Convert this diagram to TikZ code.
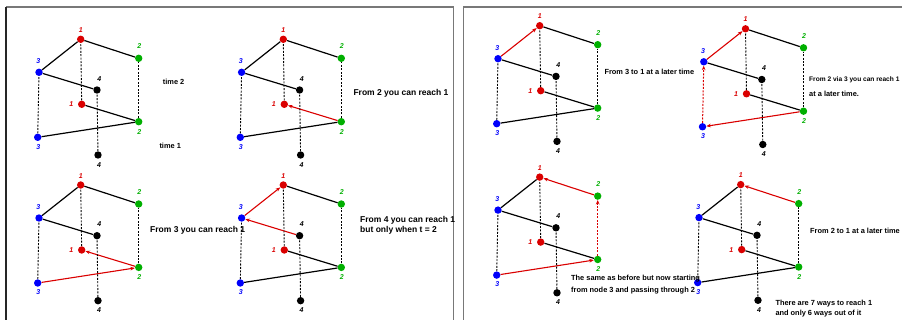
\documentclass[tikz,border=0pt]{standalone}
\usepackage{fontspec}
\setmainfont{Liberation Sans}
\usetikzlibrary{arrows.meta,backgrounds}
\definecolor{myred}{RGB}{218,0,0}
\definecolor{mygreen}{RGB}{0,175,0}
\definecolor{myblue}{RGB}{0,0,250}
\definecolor{framegray}{RGB}{120,120,120}
\tikzset{
  dot/.style={circle, inner sep=0pt, minimum size=7.4pt, fill=#1},
  lab/.style={font=\fontsize{7}{8}\selectfont\bfseries\itshape, text=#1, inner sep=0pt},
  blk/.style={draw=black, line width=1.2pt},
  vdash/.style={draw=black, line width=0.9pt, dash pattern=on 2pt off 1.4pt},
  rarr/.style={draw=myred, line width=1.1pt, -{Stealth[length=4.5pt,width=3.6pt]}},
  rarrrev/.style={draw=myred, line width=1.1pt, {Stealth[length=4.5pt,width=3.6pt]}-},
  rdash/.style={draw=myred, line width=1pt, dash pattern=on 2pt off 1.4pt, -{Stealth[length=4.5pt,width=3.6pt]}},
  eA/.style=blk, eB/.style=blk, eC/.style=blk, eD/.style=blk, eE/.style=blk,
  vA/.style=vdash, vB/.style=vdash, vC/.style=vdash, vD/.style=vdash,
  capbig/.style={font=\fontsize{8.5}{10}\selectfont\bfseries, inner sep=0pt, anchor=west},
  capsm/.style={font=\fontsize{7.4}{9}\selectfont\bfseries, inner sep=0pt, anchor=west},
  framel/.style={draw=framegray, line width=1.3pt}
}
\newcommand\drawpanel{%
  \node[dot=myred] (1t) at (80.7,39.3) {};
  \node[dot=mygreen] (2t) at (138.7,58.3) {};
  \node[dot=myblue] (3t) at (39,72.3) {};
  \node[dot=black] (4t) at (97,90) {};
  \node[dot=myred] (1b) at (81.7,104.3) {};
  \node[dot=mygreen] (2b) at (138.7,121.7) {};
  \node[dot=myblue] (3b) at (37.7,137.3) {};
  \node[dot=black] (4b) at (98,155) {};
  \node[lab=myred] (l1t) at (80.7,30) {1};
  \node[lab=mygreen] (l2t) at (139.3,46.5) {2};
  \node[lab=myblue] (l3t) at (38.3,61.3) {3};
  \node[lab=black] (l4t) at (99.3,78.7) {4};
  \node[lab=myred] (l1b) at (71.3,104.3) {1};
  \node[lab=mygreen] (l2b) at (139.3,131.7) {2};
  \node[lab=myblue] (l3b) at (38.3,146.7) {3};
  \node[lab=black] (l4b) at (99,164.7) {4};
  \begin{pgfonlayer}{background}
    \draw[eA] (2t) -- (1t);
    \draw[eB] (3t) -- (1t);
    \draw[eC] (4t) -- (3t);
    \draw[eD] (2b) -- (1b);
    \draw[eE] (3b) -- (2b);
    \draw[vA] (1b) -- (1t);
    \draw[vB] (2b) -- (2t);
    \draw[vC] (3b) -- (3t);
    \draw[vD] (4b) -- (4t);
  \end{pgfonlayer}
}
\begin{document}
\begin{tikzpicture}[x=1pt,y=-1pt]
\useasboundingbox (0,0) rectangle (902,320);
% frames
\draw[framel] (453.5,330) -- (453.5,7) -- (6,7);
\draw[draw=black!85, line width=1.3pt] (6,7) -- (6,330);
\draw[framel] (463.5,330) -- (463.5,7) -- (910,7);
% panels
\begin{scope}[name prefix=p1-]
  \drawpanel
\end{scope}
\begin{scope}[shift={(202.6,0)}, name prefix=p2-, eD/.style=rarr]
  \drawpanel
\end{scope}
\begin{scope}[shift={(0,145.7)}, name prefix=p3-, eD/.style=rarr, eE/.style=rarr]
  \drawpanel
\end{scope}
\begin{scope}[shift={(202.6,145.7)}, name prefix=p4-, eB/.style=rarr, eC/.style=rarr]
  \drawpanel
\end{scope}
\begin{scope}[shift={(459,-13.6)}, name prefix=p5-, eB/.style=rarr]
  \drawpanel
\end{scope}
\begin{scope}[shift={(664.8,-10.5)}, name prefix=p6-, eB/.style=rarr, eE/.style=rarrrev, vC/.style=rdash]
  \drawpanel
\end{scope}
\begin{scope}[shift={(459,137.8)}, name prefix=p7-, eA/.style=rarr, eE/.style=rarr, vB/.style=rdash]
  \drawpanel
\end{scope}
\begin{scope}[shift={(660,145.3)}, name prefix=p8-, eA/.style=rarr]
  \drawpanel
\end{scope}
% captions
\node[capsm] (c1a) at (162.7,82) {time 2};
\node[capsm] (c1b) at (159.3,146) {time 1};
\node[capbig] (c2) at (353.3,93.3) {From 2 you can reach 1};
\node[capbig] (c3) at (150,230) {From 3 you can reach 1};
\node[capbig] (c4a) at (360,220.7) {From 4 you can reach 1};
\node[capbig] (c4b) at (360,230.7) {but only when t = 2};
\node[capsm] (c5) at (604.3,72) {From 3 to 1 at a later time};
\node[capsm, font=\fontsize{6.6}{8}\selectfont\bfseries] (c6a) at (809,80) {From 2 via 3 you can reach 1};
\node[capsm] (c6b) at (809,94) {at a later time.};
\node[capsm] (c7a) at (571,279) {The same as before but now starting};
\node[capsm] (c7b) at (571,291) {from node 3 and passing through 2};
\node[capsm] (c8a) at (810,230.7) {From 2 to 1 at a later time};
\node[capsm] (c8b) at (775.3,304) {There are 7 ways to reach 1};
\node[capsm] (c8c) at (775.3,313.3) {and only 6 ways out of it};
\end{tikzpicture}
\end{document}
